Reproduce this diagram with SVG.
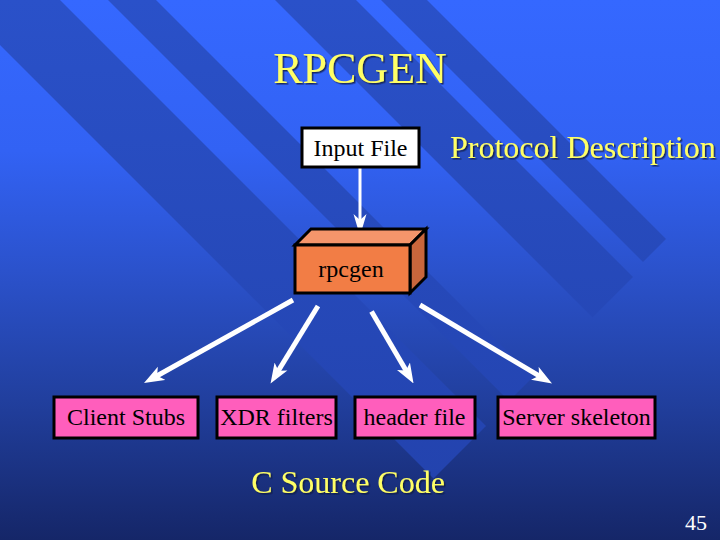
<svg xmlns="http://www.w3.org/2000/svg" width="720" height="540" viewBox="0 0 720 540">
  <defs>
    <linearGradient id="bg" x1="0" y1="0" x2="0" y2="540" gradientUnits="userSpaceOnUse">
      <stop offset="0" stop-color="#3568ff"/>
      <stop offset="0.28" stop-color="#3262f4"/>
      <stop offset="0.5" stop-color="#2b52cc"/>
      <stop offset="0.74" stop-color="#213f9e"/>
      <stop offset="1" stop-color="#152668"/>
    </linearGradient>
    <linearGradient id="band" x1="0" y1="0" x2="0" y2="480" gradientUnits="userSpaceOnUse">
      <stop offset="0" stop-color="#2a51c9"/>
      <stop offset="1" stop-color="#2343ae"/>
    </linearGradient>
    <filter id="shadow" x="-10%" y="-20%" width="130%" height="150%">
      <feDropShadow dx="1.5" dy="1.5" stdDeviation="0.6" flood-color="#0a1440" flood-opacity="0.8"/>
    </filter>
    <marker id="headBig" viewBox="0 -8 20 16" refX="8" refY="0" markerWidth="20" markerHeight="16" markerUnits="userSpaceOnUse" orient="auto">
      <path d="M20,0 L0,-7.5 L5,0 L0,7.5 Z" fill="#ffffff"/>
    </marker>
    <marker id="headTop" viewBox="0 -8 22 16" refX="10" refY="0" markerWidth="22" markerHeight="16" markerUnits="userSpaceOnUse" orient="auto">
      <path d="M22,0 L0,-6.5 L6,0 L0,6.5 Z" fill="#ffffff"/>
    </marker>
  </defs>
  <style>
    .yel { font-family: "Liberation Serif", "Times New Roman", serif; fill: #ffff66; filter: url(#shadow); }
    .lbl { font-family: "Liberation Serif", "Times New Roman", serif; font-size: 24px; fill: #000000; text-anchor: middle; }
    .box { stroke: #000000; stroke-width: 3; stroke-linejoin: miter; }
    .pink { fill: #ff5ebc; }
    .conn { stroke: #ffffff; fill: none; stroke-linecap: butt; }
  </style>

  <!-- background -->
  <g id="background">
    <rect x="0" y="0" width="720" height="540" fill="url(#bg)"/>
    <polygon points="-45,0 60,0 486,426 433.5,478.5" fill="url(#band)"/>
    <polygon points="108,0 156,0 533,377 509,401" fill="url(#band)"/>
    <polygon points="275,0 356,0 633,277 592.5,317.5" fill="url(#band)"/>
    <polygon points="381,0 427,0 666,239 643,262" fill="url(#band)"/>
  </g>

  <g id="title">
    <text class="yel" x="360" y="83" font-size="44" text-anchor="middle">RPCGEN</text>
  </g>

  <g id="protocol-label">
    <text class="yel" x="450" y="158" font-size="32">Protocol Description</text>
  </g>

  <g id="connectors">
    <line class="conn" x1="360" y1="168" x2="360" y2="224" stroke-width="3" marker-end="url(#headTop)"/>
    <line class="conn" x1="293" y1="300" x2="154.5" y2="377.2" stroke-width="5" marker-end="url(#headBig)"/>
    <line class="conn" x1="318" y1="306" x2="276.8" y2="373.3" stroke-width="5" marker-end="url(#headBig)"/>
    <line class="conn" x1="371.5" y1="311.5" x2="407.5" y2="373.1" stroke-width="5" marker-end="url(#headBig)"/>
    <line class="conn" x1="420" y1="305" x2="541.7" y2="377.4" stroke-width="5" marker-end="url(#headBig)"/>
  </g>

  <g id="input-file">
    <rect class="box" x="302" y="128" width="117" height="39" fill="#ffffff"/>
    <text class="lbl" x="360.5" y="156">Input File</text>
  </g>

  <g id="rpcgen">
    <polygon class="box" points="295,245 311,229 426,229 410,245" fill="#f5956b"/>
    <polygon class="box" points="410,245 426,229 426,277 410,293" fill="#c9663c"/>
    <rect class="box" x="295" y="245" width="115" height="48" fill="#f27d45"/>
    <text class="lbl" x="351" y="277">rpcgen</text>
  </g>

  <g id="client-stubs">
    <rect class="box pink" x="54" y="397" width="144" height="41"/>
    <text class="lbl" x="126" y="425">Client Stubs</text>
  </g>

  <g id="xdr-filters">
    <rect class="box pink" x="217" y="397" width="119" height="41"/>
    <text class="lbl" x="276.5" y="425">XDR filters</text>
  </g>

  <g id="header-file">
    <rect class="box pink" x="355" y="397" width="120" height="41"/>
    <text class="lbl" x="414.5" y="425">header file</text>
  </g>

  <g id="server-skeleton">
    <rect class="box pink" x="498" y="397" width="157" height="41"/>
    <text class="lbl" x="576.5" y="425">Server skeleton</text>
  </g>

  <g id="c-source-label">
    <text class="yel" x="348" y="493" font-size="32" text-anchor="middle">C Source Code</text>
  </g>

  <g id="page-number">
    <text x="707" y="530" font-family="Liberation Serif, Times New Roman, serif" font-size="22" fill="#ffffff" text-anchor="end">45</text>
  </g>
</svg>
